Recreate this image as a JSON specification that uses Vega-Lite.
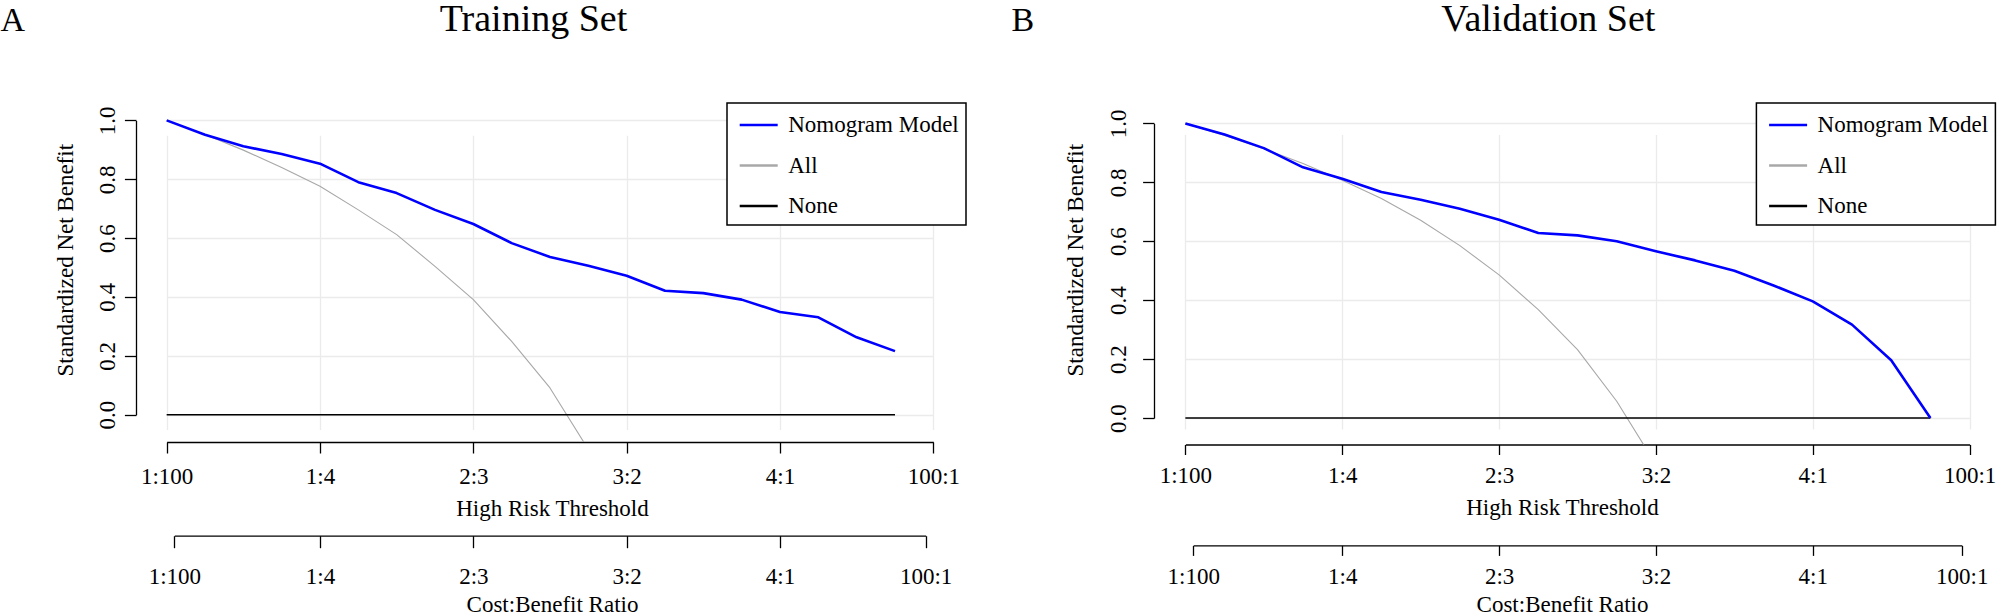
{
  "$schema": "https://vega.github.io/schema/vega-lite/v6.json",
  "padding": 0,
  "autosize": {"type": "pad"},
  "background": "white",
  "config": {
    "font": "Liberation Serif",
    "view": {"stroke": null},
    "axis": {
      "labelFont": "Liberation Serif", "titleFont": "Liberation Serif",
      "labelFontSize": 23, "titleFontSize": 23,
      "labelColor": "#000000", "titleColor": "#000000", "titleFontWeight": "normal",
      "domainColor": "#000000", "tickColor": "#000000", "domainWidth": 1.3, "tickWidth": 1.3,
      "gridColor": "#ebebeb", "gridWidth": 1.3,
      "labelFlush": false, "labelOverlap": false, "titlePadding": 0
    },
    "legend": {"strokeWidth": 1.5}
  },
  "datasets": {
    "train": [
      {"t": 0, "series": "Nomogram Model", "v": 1},
      {"t": 0.05, "series": "Nomogram Model", "v": 0.951},
      {"t": 0.1, "series": "Nomogram Model", "v": 0.912},
      {"t": 0.15, "series": "Nomogram Model", "v": 0.886},
      {"t": 0.2, "series": "Nomogram Model", "v": 0.853},
      {"t": 0.25, "series": "Nomogram Model", "v": 0.79},
      {"t": 0.3, "series": "Nomogram Model", "v": 0.753},
      {"t": 0.35, "series": "Nomogram Model", "v": 0.696},
      {"t": 0.4, "series": "Nomogram Model", "v": 0.648},
      {"t": 0.45, "series": "Nomogram Model", "v": 0.583},
      {"t": 0.5, "series": "Nomogram Model", "v": 0.536},
      {"t": 0.55, "series": "Nomogram Model", "v": 0.506},
      {"t": 0.6, "series": "Nomogram Model", "v": 0.472},
      {"t": 0.65, "series": "Nomogram Model", "v": 0.421},
      {"t": 0.7, "series": "Nomogram Model", "v": 0.413},
      {"t": 0.75, "series": "Nomogram Model", "v": 0.391},
      {"t": 0.8, "series": "Nomogram Model", "v": 0.349},
      {"t": 0.85, "series": "Nomogram Model", "v": 0.331},
      {"t": 0.9, "series": "Nomogram Model", "v": 0.263},
      {"t": 0.95, "series": "Nomogram Model", "v": 0.216},
      {"t": 0, "series": "All", "v": 1},
      {"t": 0.05, "series": "All", "v": 0.952},
      {"t": 0.1, "series": "All", "v": 0.899},
      {"t": 0.15, "series": "All", "v": 0.84},
      {"t": 0.2, "series": "All", "v": 0.776},
      {"t": 0.25, "series": "All", "v": 0.696},
      {"t": 0.3, "series": "All", "v": 0.612},
      {"t": 0.35, "series": "All", "v": 0.504},
      {"t": 0.4, "series": "All", "v": 0.391},
      {"t": 0.45, "series": "All", "v": 0.249},
      {"t": 0.5, "series": "All", "v": 0.091},
      {"t": 0.55, "series": "All", "v": -0.118},
      {"t": 0, "series": "None", "v": 0},
      {"t": 0.95, "series": "None", "v": 0}
    ],
    "valid": [
      {"t": 0, "series": "Nomogram Model", "v": 1},
      {"t": 0.05, "series": "Nomogram Model", "v": 0.962},
      {"t": 0.1, "series": "Nomogram Model", "v": 0.916},
      {"t": 0.15, "series": "Nomogram Model", "v": 0.851},
      {"t": 0.2, "series": "Nomogram Model", "v": 0.812},
      {"t": 0.25, "series": "Nomogram Model", "v": 0.767},
      {"t": 0.3, "series": "Nomogram Model", "v": 0.741},
      {"t": 0.35, "series": "Nomogram Model", "v": 0.71},
      {"t": 0.4, "series": "Nomogram Model", "v": 0.673},
      {"t": 0.45, "series": "Nomogram Model", "v": 0.628},
      {"t": 0.5, "series": "Nomogram Model", "v": 0.62},
      {"t": 0.55, "series": "Nomogram Model", "v": 0.6},
      {"t": 0.6, "series": "Nomogram Model", "v": 0.566},
      {"t": 0.65, "series": "Nomogram Model", "v": 0.535},
      {"t": 0.7, "series": "Nomogram Model", "v": 0.5},
      {"t": 0.75, "series": "Nomogram Model", "v": 0.45},
      {"t": 0.8, "series": "Nomogram Model", "v": 0.396},
      {"t": 0.85, "series": "Nomogram Model", "v": 0.317},
      {"t": 0.9, "series": "Nomogram Model", "v": 0.196},
      {"t": 0.95, "series": "Nomogram Model", "v": 0},
      {"t": 0, "series": "All", "v": 1},
      {"t": 0.05, "series": "All", "v": 0.959},
      {"t": 0.1, "series": "All", "v": 0.914},
      {"t": 0.15, "series": "All", "v": 0.864},
      {"t": 0.2, "series": "All", "v": 0.807},
      {"t": 0.25, "series": "All", "v": 0.745},
      {"t": 0.3, "series": "All", "v": 0.671},
      {"t": 0.35, "series": "All", "v": 0.585},
      {"t": 0.4, "series": "All", "v": 0.486},
      {"t": 0.45, "series": "All", "v": 0.368},
      {"t": 0.5, "series": "All", "v": 0.232},
      {"t": 0.55, "series": "All", "v": 0.057},
      {"t": 0.6, "series": "All", "v": -0.158},
      {"t": 0, "series": "None", "v": 0},
      {"t": 0.95, "series": "None", "v": 0}
    ]
  },
  "spacing": 44,
  "resolve": {"scale": {"x": "independent", "y": "independent", "color": "independent"}, "legend": {"color": "independent"}},
  "hconcat": [
    {
      "width": 828, "height": 334,
      "data": {"name": "train"},
      "resolve": {"scale": {"x": "independent", "y": "independent"}},
      "layer": [
        {
          "transform": [{"filter": "datum.series === 'All'"}],
          "mark": {"type": "line", "clip": true, "strokeWidth": 1.1, "strokeJoin": "round"},
          "encoding": {
            "x": {"field": "t", "type": "quantitative",
              "scale": {"domain": [0, 1], "range": [30.67, 797.33], "nice": false, "zero": false},
              "axis": {"orient": "bottom", "values": [0, 0.2, 0.4, 0.6, 0.8, 1],
                "labelExpr": "datum.value < 0.1 ? '1:100' : datum.value < 0.3 ? '1:4' : datum.value < 0.5 ? '2:3' : datum.value < 0.7 ? '3:2' : datum.value < 0.9 ? '4:1' : '100:1'",
                "title": "High Risk Threshold", "grid": true, "tickSize": 11, "labelPadding": 30.4,
                "labelBaseline": "alphabetic", "labelAlign": "center",
                "titleX": 416, "titleY": 73.7, "titleAlign": "center", "titleBaseline": "alphabetic"}},
            "y": {"field": "v", "type": "quantitative",
              "scale": {"domain": [0, 1], "range": [306.7, 12.4], "nice": false, "zero": false},
              "axis": {"orient": "left", "values": [0, 0.2, 0.4, 0.6, 0.8, 1], "format": ".1f",
                "title": "Standardized Net Benefit", "grid": true, "tickSize": 11.6,
                "labelAngle": 270, "labelAlign": "center", "labelBaseline": "middle", "labelPadding": 17.2,
                "titleAngle": 270, "titleX": -63.3, "titleY": 151.7, "titleAlign": "center", "titleBaseline": "alphabetic"}},
            "color": {"field": "series", "type": "nominal",
              "scale": {"domain": ["Nomogram Model", "All", "None"], "range": ["#0000ff", "#a8a8a8", "#000000"]},
              "legend": {"orient": "none", "legendX": 591, "legendY": -5, "title": null,
                "symbolType": "stroke", "symbolSize": 1444, "symbolStrokeWidth": 2.5,
                "labelFont": "Liberation Serif", "labelFontSize": 23, "labelColor": "#000000", "labelLimit": 400,
                "strokeColor": "#000000", "fillColor": "#ffffff", "padding": 7, "rowPadding": 13.5,
                "symbolOffset": 4.2, "labelOffset": 9,
                "labelExpr": "datum.label + '\u00a0\u00a0\u00a0'",
                "encode": {
                  "symbols": {"update": {"y": {"value": 15}, "stroke": [
                    {"test": "datum.value === 'Nomogram Model'", "value": "#3f6fd3"},
                    {"test": "datum.value === 'All'", "value": "#878787"},
                    {"value": "#000000"}]}},
                  "labels": {"update": {"y": {"value": 15}}}}}}
          }
        },
        {
          "transform": [{"filter": "datum.series === 'None'"}],
          "mark": {"type": "line", "clip": true, "strokeWidth": 1.6},
          "encoding": {
            "x": {"field": "t", "type": "quantitative",
              "scale": {"domain": [0.01, 0.99], "range": [38.33, 789.67], "nice": false, "zero": false},
              "axis": {"orient": "bottom", "offset": 93.7, "values": [0.01, 0.2, 0.4, 0.6, 0.8, 0.99],
                "labelExpr": "datum.value < 0.1 ? '1:100' : datum.value < 0.3 ? '1:4' : datum.value < 0.5 ? '2:3' : datum.value < 0.7 ? '3:2' : datum.value < 0.9 ? '4:1' : '100:1'",
                "title": "Cost:Benefit Ratio", "grid": false, "tickSize": 12, "labelPadding": 35.3,
                "labelBaseline": "alphabetic", "labelAlign": "center",
                "titleX": 416, "titleY": 75.7, "titleAlign": "center", "titleBaseline": "alphabetic"}},
            "y": {"field": "v", "type": "quantitative",
              "scale": {"domain": [0, 1], "range": [306.7, 12.4], "nice": false, "zero": false},
              "axis": null},
            "color": {"field": "series", "type": "nominal"}
          }
        },
        {
          "transform": [{"filter": "datum.series === 'Nomogram Model'"}],
          "mark": {"type": "line", "clip": true, "strokeWidth": 2.6, "strokeJoin": "round"},
          "encoding": {
            "x": {"field": "t", "type": "quantitative",
              "scale": {"domain": [0, 1], "range": [30.67, 797.33], "nice": false, "zero": false},
              "axis": {"orient": "top", "domain": false, "ticks": false, "labels": false, "grid": false,
                "title": "Training Set", "titleFontSize": 38, "titleX": 397, "titleY": -78,
                "titleAlign": "center", "titleBaseline": "alphabetic"}},
            "y": {"field": "v", "type": "quantitative",
              "scale": {"domain": [0, 1], "range": [306.7, 12.4], "nice": false, "zero": false},
              "axis": {"orient": "left", "domain": false, "ticks": false, "labels": false, "grid": false,
                "title": "A", "titleFontSize": 34, "titleAngle": 0, "titleX": -136, "titleY": -78,
                "titleAlign": "left", "titleBaseline": "alphabetic"}},
            "color": {"field": "series", "type": "nominal"}
          }
        }
      ]
    },
    {
      "width": 847, "height": 336.5,
      "data": {"name": "valid"},
      "resolve": {"scale": {"x": "independent", "y": "independent"}},
      "layer": [
        {
          "transform": [{"filter": "datum.series === 'All'"}],
          "mark": {"type": "line", "clip": true, "strokeWidth": 1.1, "strokeJoin": "round"},
          "encoding": {
            "x": {"field": "t", "type": "quantitative",
              "scale": {"domain": [0, 1], "range": [31.37, 815.63], "nice": false, "zero": false},
              "axis": {"orient": "bottom", "values": [0, 0.2, 0.4, 0.6, 0.8, 1],
                "labelExpr": "datum.value < 0.1 ? '1:100' : datum.value < 0.3 ? '1:4' : datum.value < 0.5 ? '2:3' : datum.value < 0.7 ? '3:2' : datum.value < 0.9 ? '4:1' : '100:1'",
                "title": "High Risk Threshold", "grid": true, "tickSize": 10, "labelPadding": 28.3,
                "labelBaseline": "alphabetic", "labelAlign": "center",
                "titleX": 408, "titleY": 70, "titleAlign": "center", "titleBaseline": "alphabetic"}},
            "y": {"field": "v", "type": "quantitative",
              "scale": {"domain": [0, 1], "range": [310, 15.4], "nice": false, "zero": false},
              "axis": {"orient": "left", "values": [0, 0.2, 0.4, 0.6, 0.8, 1], "format": ".1f",
                "title": "Standardized Net Benefit", "grid": true, "tickSize": 11.4,
                "labelAngle": 270, "labelAlign": "center", "labelBaseline": "middle", "labelPadding": 24.2,
                "titleAngle": 270, "titleX": -71.9, "titleY": 151.7, "titleAlign": "center", "titleBaseline": "alphabetic"}},
            "color": {"field": "series", "type": "nominal",
              "scale": {"domain": ["Nomogram Model", "All", "None"], "range": ["#0000ff", "#a8a8a8", "#000000"]},
              "legend": {"orient": "none", "legendX": 602.4, "legendY": -5, "title": null,
                "symbolType": "stroke", "symbolSize": 1444, "symbolStrokeWidth": 2.5,
                "labelFont": "Liberation Serif", "labelFontSize": 23, "labelColor": "#000000", "labelLimit": 400,
                "strokeColor": "#000000", "fillColor": "#ffffff", "padding": 7, "rowPadding": 13.5,
                "symbolOffset": 4.2, "labelOffset": 9,
                "labelExpr": "datum.label + '\u00a0\u00a0\u00a0'",
                "encode": {
                  "symbols": {"update": {"y": {"value": 15}, "stroke": [
                    {"test": "datum.value === 'Nomogram Model'", "value": "#3f6fd3"},
                    {"test": "datum.value === 'All'", "value": "#878787"},
                    {"value": "#000000"}]}},
                  "labels": {"update": {"y": {"value": 15}}}}}}
          }
        },
        {
          "transform": [{"filter": "datum.series === 'None'"}],
          "mark": {"type": "line", "clip": true, "strokeWidth": 1.6},
          "encoding": {
            "x": {"field": "t", "type": "quantitative",
              "scale": {"domain": [0.01, 0.99], "range": [39.21, 807.79], "nice": false, "zero": false},
              "axis": {"orient": "bottom", "offset": 100.9, "values": [0.01, 0.2, 0.4, 0.6, 0.8, 0.99],
                "labelExpr": "datum.value < 0.1 ? '1:100' : datum.value < 0.3 ? '1:4' : datum.value < 0.5 ? '2:3' : datum.value < 0.7 ? '3:2' : datum.value < 0.9 ? '4:1' : '100:1'",
                "title": "Cost:Benefit Ratio", "grid": false, "tickSize": 10, "labelPadding": 27.6,
                "labelBaseline": "alphabetic", "labelAlign": "center",
                "titleX": 408, "titleY": 66, "titleAlign": "center", "titleBaseline": "alphabetic"}},
            "y": {"field": "v", "type": "quantitative",
              "scale": {"domain": [0, 1], "range": [310, 15.4], "nice": false, "zero": false},
              "axis": null},
            "color": {"field": "series", "type": "nominal"}
          }
        },
        {
          "transform": [{"filter": "datum.series === 'Nomogram Model'"}],
          "mark": {"type": "line", "clip": true, "strokeWidth": 2.6, "strokeJoin": "round"},
          "encoding": {
            "x": {"field": "t", "type": "quantitative",
              "scale": {"domain": [0, 1], "range": [31.37, 815.63], "nice": false, "zero": false},
              "axis": {"orient": "top", "domain": false, "ticks": false, "labels": false, "grid": false,
                "title": "Validation Set", "titleFontSize": 38, "titleX": 393.8, "titleY": -78,
                "titleAlign": "center", "titleBaseline": "alphabetic"}},
            "y": {"field": "v", "type": "quantitative",
              "scale": {"domain": [0, 1], "range": [310, 15.4], "nice": false, "zero": false},
              "axis": {"orient": "left", "domain": false, "ticks": false, "labels": false, "grid": false,
                "title": "B", "titleFontSize": 34, "titleAngle": 0, "titleX": -142.9, "titleY": -78,
                "titleAlign": "left", "titleBaseline": "alphabetic"}},
            "color": {"field": "series", "type": "nominal"}
          }
        }
      ]
    }
  ]
}
